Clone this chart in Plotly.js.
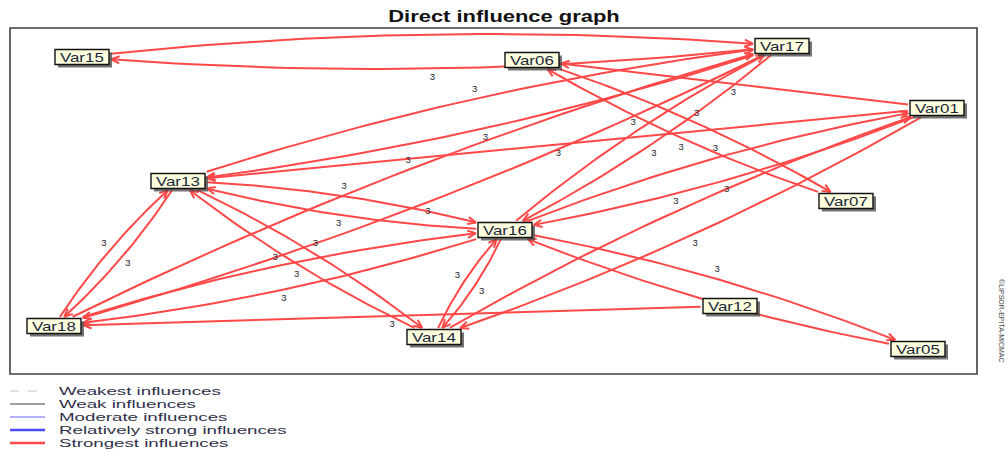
<!DOCTYPE html>
<html>
<head>
<meta charset="utf-8">
<script src="https://cdn.plot.ly/plotly-3.0.1.min.js"></script>
<style>
html,body{margin:0;padding:0;background:#ffffff;}
#chart{width:1008px;height:452px;}
</style>
</head>
<body>
<div id="chart"></div>
<script>
// ---------------- DATA ----------------
const chartTitle = "Direct influence graph";
const nodeNames = ["Var15","Var06","Var17","Var01","Var13","Var07","Var16","Var18","Var12","Var14","Var05"];
const nodeX     = [72, 522, 772, 927, 168, 836, 495, 44, 720, 424, 908];
const nodeY     = [29, 32, 18, 80, 153, 173, 202, 298, 278, 309, 321];

const edgeFrom = ["Var15","Var17","Var06","Var07","Var13","Var17","Var13","Var16","Var13","Var14",
                  "Var13","Var18","Var18","Var17","Var18","Var16","Var14","Var16","Var14","Var01",
                  "Var16","Var17","Var16","Var01","Var16","Var05","Var01","Var01","Var12"];
const edgeTo   = ["Var17","Var15","Var07","Var06","Var17","Var13","Var16","Var13","Var14","Var13",
                  "Var18","Var13","Var17","Var18","Var16","Var18","Var16","Var14","Var01","Var14",
                  "Var17","Var16","Var01","Var16","Var05","Var16","Var06","Var13","Var18"];
const edgeWeight = [3,3,3,3,3,3,3,3,3,3, 3,3,3,3,3,3,3,3,3,3, 3,3,3,3,3,3,3,3,3];

const legendLabels = ["Weakest influences","Weak influences","Moderate influences",
                      "Relatively strong influences","Strongest influences"];
const copyrightText = "\u00A9LIPSOR-EPITA-MICMAC";

// ---------------- STYLE / LAYOUT ----------------
const W = 1008, H = 452;
const M = {l:10, r:31, t:28, b:78};
const plotW = W - M.l - M.r, plotH = H - M.t - M.b;
const BOX_HW = 27, BOX_HH = 7.5;
const EDGE_COLOR = "rgb(255,72,72)";
const legendStyles = [
  {color:"#c4c4c4", width:1,   dash:"dash"},
  {color:"#404040", width:1,   dash:"solid"},
  {color:"#6464ff", width:1,   dash:"solid"},
  {color:"#4a4aff", width:2.5, dash:"solid"},
  {color:"#ff4a4a", width:2.5, dash:"solid"}
];
const pxToPaperX = px => (px - M.l) / plotW;
const pxToPaperY = py => (H - M.b - py) / plotH;

// ---------------- GEOMETRY ----------------
const idx = {};
nodeNames.forEach((n,i) => idx[n] = i);
function bez(p0,p1,p2,t){const u=1-t;return [u*u*p0[0]+2*u*t*p1[0]+t*t*p2[0], u*u*p0[1]+2*u*t*p1[1]+t*t*p2[1]];}
function inBox(p,c,pad){return Math.abs(p[0]-c[0])<=BOX_HW+pad && Math.abs(p[1]-c[1])<=BOX_HH+pad;}

const ex = [], ey = [], lx = [], ly = [], lt = [];
for (let k = 0; k < edgeFrom.length; k++) {
  const a = idx[edgeFrom[k]], b = idx[edgeTo[k]];
  const p0 = [nodeX[a], nodeY[a]], p2 = [nodeX[b], nodeY[b]];
  const dx = p2[0]-p0[0], dy = p2[1]-p0[1], L = Math.hypot(dx,dy);
  const n = [dy/L, -dx/L];
  let paired = false;
  for (let j = 0; j < edgeFrom.length; j++) if (edgeFrom[j]===edgeTo[k] && edgeTo[j]===edgeFrom[k]) paired = true;
  const h = paired ? 3 + 0.02*L : 0;
  const p1 = [(p0[0]+p2[0])/2 + 2*h*n[0], (p0[1]+p2[1])/2 + 2*h*n[1]];
  let t0 = 0, t1 = 1; const S = 600;
  for (let i = 0; i <= S; i++) { const t=i/S; if (!inBox(bez(p0,p1,p2,t),p0,1.5)) { t0=t; break; } }
  for (let i = S; i >= 0; i--) { const t=i/S; if (!inBox(bez(p0,p1,p2,t),p2,1.5)) { t1=t; break; } }
  const N = 40;
  for (let i = 0; i <= N; i++) { const p = bez(p0,p1,p2,t0+(t1-t0)*i/N); ex.push(p[0]); ey.push(p[1]); }
  ex.push(null); ey.push(null);
  // arrow head
  const e = bez(p0,p1,p2,t1), q = bez(p0,p1,p2,Math.max(t0,t1-0.02));
  let ux = e[0]-q[0], uy = e[1]-q[1]; const ul = Math.hypot(ux,uy); ux/=ul; uy/=ul;
  const AL = 9, ang = 24*Math.PI/180;
  const wing = s => { const vx=-ux, vy=-uy, c=Math.cos(s*ang), sn=Math.sin(s*ang);
    return [e[0]+AL*(vx*c - vy*sn), e[1]+AL*(vx*sn + vy*c)]; };
  const w1 = wing(1), w2 = wing(-1);
  ex.push(w1[0], e[0], w2[0], null); ey.push(w1[1], e[1], w2[1], null);
  // weight label
  lx.push((p0[0]+p2[0])/2 + n[0]*(h+9));
  ly.push((p0[1]+p2[1])/2 + n[1]*(h+9));
  lt.push(String(edgeWeight[k]));
}

const data = [
  {type:"scatter", mode:"lines", x:ex, y:ey, line:{color:EDGE_COLOR, width:2}, hoverinfo:"skip", connectgaps:false},
  {type:"scatter", mode:"text", x:lx, y:ly, text:lt, textposition:"middle center",
   textfont:{family:"Liberation Sans, Arial, sans-serif", size:9.5, color:"#1e1e2e"}, cliponaxis:false, hoverinfo:"skip"}
];

const shapes = [
  {type:"rect", xref:"paper", yref:"paper", x0:0, x1:1, y0:0, y1:1, line:{color:"#404040", width:1.6}, layer:"below"}
];
const annotations = [];
const stretch = [];
for (let i = 0; i < nodeNames.length; i++) {
  const x = nodeX[i], y = nodeY[i];
  shapes.push({type:"rect", xref:"x", yref:"y", x0:x-BOX_HW+3, x1:x+BOX_HW+3, y0:y-BOX_HH+3, y1:y+BOX_HH+3,
               fillcolor:"rgba(70,70,70,0.75)", line:{width:0}, layer:"above"});
  shapes.push({type:"rect", xref:"x", yref:"y", x0:x-BOX_HW, x1:x+BOX_HW, y0:y-BOX_HH, y1:y+BOX_HH,
               fillcolor:"#ffffe0", line:{color:"#111111", width:1.4}, layer:"above"});
  annotations.push({xref:"x", yref:"y", x:x, y:y+0.5, text:nodeNames[i], showarrow:false,
                    xanchor:"center", yanchor:"middle",
                    font:{family:"Liberation Sans, Arial, sans-serif", size:13, color:"#1a2838"}});
  stretch.push(1.3);
}
legendLabels.forEach((lab, i) => {
  const py = 391 + 13*i;
  const st = legendStyles[i];
  shapes.push({type:"line", xref:"paper", yref:"paper", x0:pxToPaperX(10), x1:pxToPaperX(45),
               y0:pxToPaperY(py), y1:pxToPaperY(py), line:{color:st.color, width:st.width, dash:st.dash}});
  annotations.push({xref:"paper", yref:"paper", x:pxToPaperX(57), y:pxToPaperY(py), text:lab, showarrow:false,
                    xanchor:"left", yanchor:"middle", align:"left",
                    font:{family:"Liberation Sans, Arial, sans-serif", size:11, color:"#30304a"}});
  stretch.push(1.7);
});
annotations.push({xref:"paper", yref:"paper", x:pxToPaperX(1002), y:pxToPaperY(321), text:copyrightText,
                  showarrow:false, textangle:90, xanchor:"center", yanchor:"middle",
                  font:{family:"Liberation Sans, Arial, sans-serif", size:7, color:"#444444"}});
stretch.push(1);

const layout = {
  width:W, height:H,
  margin:{l:M.l, r:M.r, t:M.t, b:M.b, pad:0, autoexpand:false},
  paper_bgcolor:"#ffffff", plot_bgcolor:"#ffffff",
  showlegend:false,
  title:{text:chartTitle, xref:"container", yref:"container", x:0.5, y:1-16/H, xanchor:"center", yanchor:"middle",
         font:{family:"Liberation Sans, Arial, sans-serif", size:16, weight:"bold", color:"#111111"}},
  xaxis:{range:[0, plotW], visible:false, fixedrange:true},
  yaxis:{range:[plotH, 0], visible:false, fixedrange:true},
  shapes:shapes,
  annotations:annotations
};

Plotly.newPlot("chart", data, layout, {staticPlot:true}).then(gd => {
  gd.querySelectorAll(".annotation").forEach(g => {
    const i = +g.getAttribute("data-index");
    const t = g.querySelector("text");
    const f = stretch[i];
    if (t && f && f !== 1) {
      const w = t.getComputedTextLength();
      t.setAttribute("textLength", (w*f).toFixed(1));
      t.setAttribute("lengthAdjust", "spacingAndGlyphs");
    }
  });
  const tt = gd.querySelector(".gtitle");
  if (tt) {
    const w = tt.getComputedTextLength();
    tt.setAttribute("textLength", (w*1.37).toFixed(1));
    tt.setAttribute("lengthAdjust", "spacingAndGlyphs");
  }
});
</script>
</body>
</html>
